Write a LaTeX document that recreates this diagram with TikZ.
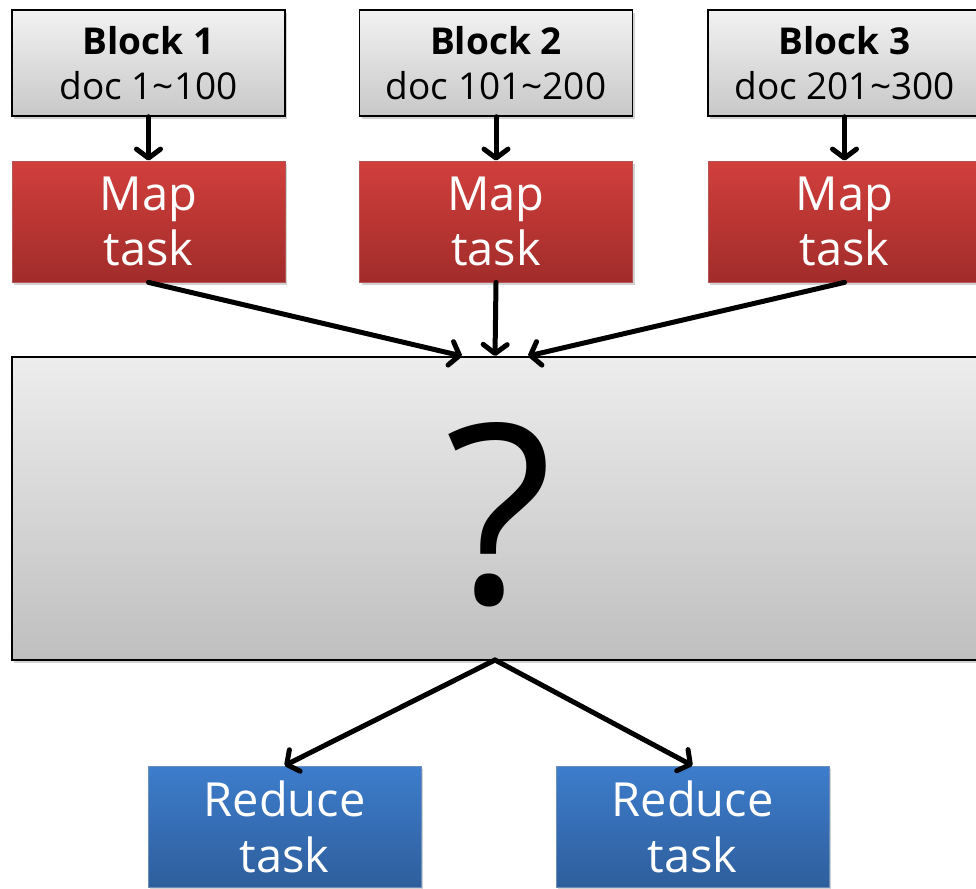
\documentclass[tikz,border=0pt]{standalone}
\usepackage{fontspec}
\setmainfont{Open Sans}
\usetikzlibrary{arrows.meta,shadows}
\definecolor{gtop}{HTML}{F2F2F2}
\definecolor{gbot}{HTML}{C8C8C8}
\definecolor{btop}{HTML}{EDEDED}
\definecolor{bbot}{HTML}{BFBFBF}
\definecolor{rtop}{HTML}{D13F3C}
\definecolor{rbot}{HTML}{A12C2A}
\definecolor{ltop}{HTML}{3D7DCC}
\definecolor{lbot}{HTML}{2E5E9C}
\tikzset{
  shad/.style={drop shadow={opacity=0.35,shadow xshift=2pt,shadow yshift=-3pt}},
  blockbox/.style={rectangle,draw=black,line width=1.5pt,top color=gtop,bottom color=gbot,
    minimum width=273pt,minimum height=106pt,inner sep=0pt,align=center,
    font=\fontsize{37}{45}\selectfont,shad},
  mapbox/.style={rectangle,draw=rbot!80!white,line width=0.8pt,top color=rtop,bottom color=rbot,
    minimum width=273pt,minimum height=121pt,inner sep=0pt,align=center,text=white,
    font=\fontsize{47}{55}\selectfont,shad},
  redbox/.style={rectangle,draw=lbot!70!white,line width=0.8pt,top color=ltop,bottom color=lbot,
    minimum width=273pt,minimum height=121pt,inner sep=0pt,align=center,text=white,
    font=\fontsize{47}{56}\selectfont,shad},
  bigbox/.style={rectangle,draw=black,line width=1.5pt,top color=btop,bottom color=bbot,
    minimum width=969pt,minimum height=303pt,inner sep=0pt,shad},
  arr/.style={line width=5pt,line cap=round,-{Straight Barb[length=9pt,width=24pt,line cap=round,line join=round]}}
}
\begin{document}
\begin{tikzpicture}[x=1pt,y=-1pt]
\clip (0,0) rectangle (976,888);
\fill[white] (0,0) rectangle (976,888);
\node[blockbox] (b1) at (148.5,63) {\textbf{Block 1}\\doc 1\textasciitilde100};
\node[blockbox] (b2) at (496,63) {\textbf{Block 2}\\doc 101\textasciitilde200};
\node[blockbox] (b3) at (844.5,63) {\textbf{Block 3}\\doc 201\textasciitilde300};
\node[mapbox] (m1) at (148.5,221.5) {Map\\task};
\node[mapbox] (m2) at (496,221.5) {Map\\task};
\node[mapbox] (m3) at (844.5,221.5) {Map\\task};
\node[bigbox] (q) at (496.5,508.5) {};
\node[font=\fontsize{250}{250}\selectfont,inner sep=0pt] (qm) at (499,515) {?};
\node[redbox] (r1) at (284.5,826.5) {Reduce\\task};
\node[redbox] (r2) at (692.5,826.5) {Reduce\\task};
\coordinate (t1) at (462,356);
\coordinate (t2) at (495,356);
\coordinate (t3) at (528,356);
\coordinate (s0) at (495,660);
\draw[arr] (b1.south) -- (m1.north);
\draw[arr] (b2.south) -- (m2.north);
\draw[arr] (b3.south) -- (m3.north);
\draw[arr] (m1.south) -- (t1);
\draw[arr] (m2.south) -- (t2);
\draw[arr] (m3.south) -- (t3);
\draw[arr] (s0) -- (r1.north);
\draw[arr] (s0) -- (r2.north);
\end{tikzpicture}
\end{document}
